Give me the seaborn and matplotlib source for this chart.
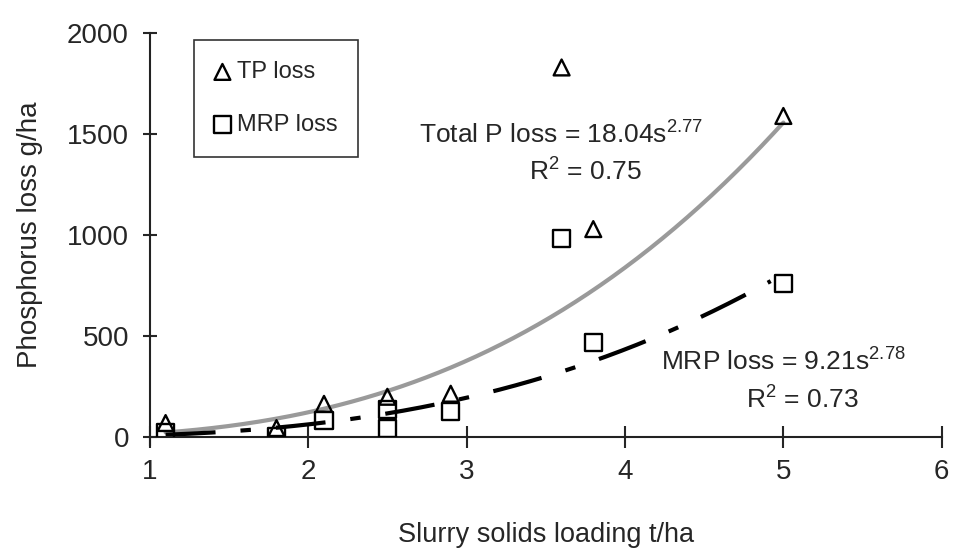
import numpy as np
import pandas as pd
import matplotlib
matplotlib.use("Agg")
import matplotlib.pyplot as plt
import seaborn as sns

# data
tp_x = [1.1, 1.8, 2.1, 2.5, 2.9, 3.6, 3.8, 5.0]
tp_y = [70, 45, 165, 200, 215, 1830, 1030, 1590]
mrp_x = [1.1, 1.8, 2.1, 2.5, 2.5, 2.9, 3.6, 3.8, 5.0]
mrp_y = [25, 5, 85, 135, 45, 125, 985, 470, 762]

# power fits given on the chart
tp_a, tp_b = 18.04, 2.77
mrp_a, mrp_b = 9.21, 2.78
tp_fit_range = [1.1, 5.0]
mrp_fit_range = [1.1, 4.92]

sns.set_theme(style="ticks")
plt.rcParams['font.family'] = ['Liberation Sans', 'DejaVu Sans']
plt.rcParams['mathtext.fontset'] = 'custom'
plt.rcParams['mathtext.rm'] = 'Liberation Sans'

fig = plt.figure(figsize=(9.6, 5.52), dpi=100)
ax = fig.add_axes([0.156, 0.208, 0.825, 0.732])

s_tp = np.linspace(tp_fit_range[0], tp_fit_range[1], 200)
s_mrp = np.linspace(mrp_fit_range[0], mrp_fit_range[1], 200)
fit_tp = pd.DataFrame({"s": s_tp, "p": tp_a * s_tp ** tp_b})
fit_mrp = pd.DataFrame({"s": s_mrp, "p": mrp_a * s_mrp ** mrp_b})

sns.lineplot(data=fit_tp, x="s", y="p", color="#9a9a9a", lw=3, ax=ax)
l = sns.lineplot(data=fit_mrp, x="s", y="p", color="black", lw=3, ax=ax)
l.lines[-1].set_dashes([12, 6, 2.5, 6])

pts_tp = pd.DataFrame({"s": tp_x, "p": tp_y})
pts_mrp = pd.DataFrame({"s": mrp_x, "p": mrp_y})
sns.scatterplot(data=pts_tp, x="s", y="p", marker="^", s=130, facecolor="none",
                edgecolor="black", linewidth=1.7, ax=ax, label="TP loss", zorder=3)
sns.scatterplot(data=pts_mrp, x="s", y="p", marker="s", s=150, facecolor="none",
                edgecolor="black", linewidth=1.7, ax=ax, label="MRP loss", zorder=3)

ax.set_xlim(1, 6)
ax.set_ylim(0, 2000)
ax.set_xticks([1, 2, 3, 4, 5, 6])
ax.set_yticks([0, 500, 1000, 1500, 2000])
ax.spines['top'].set_visible(False)
ax.spines['right'].set_visible(False)
ax.spines['left'].set_bounds(-40, 2000)
for sp in ('left', 'bottom'):
    ax.spines[sp].set_color('#222222')
    ax.spines[sp].set_linewidth(1.5)
ax.tick_params(axis='x', direction='inout', length=16, width=1.5, pad=8, labelsize=20)
ax.tick_params(axis='y', direction='inout', length=10, width=1.5, pad=10, labelsize=20)
ax.set_xlabel("Slurry solids loading t/ha", fontsize=19.5, labelpad=26)
ax.set_ylabel("Phosphorus loss g/ha", fontsize=20, labelpad=17)

leg = ax.legend(loc="upper left", bbox_to_anchor=(0.05, 0.995), frameon=True,
                fancybox=False, fontsize=17, handletextpad=0.3, labelspacing=1.3,
                borderpad=0.9, borderaxespad=0.2, handlelength=0.6, markerscale=1.0)
leg.get_frame().set_edgecolor("black")
leg.get_frame().set_linewidth(1.2)

ax.text(3.6, 1500, "Total P loss = 18.04s$^{2.77}$", fontsize=19, ha="center", va="center")
ax.text(3.75, 1320, "R$^2$ = 0.75", fontsize=19, ha="center", va="center")
ax.text(5.0, 380, "MRP loss = 9.21s$^{2.78}$", fontsize=19, ha="center", va="center")
ax.text(5.12, 190, "R$^2$ = 0.73", fontsize=19, ha="center", va="center")

fig.savefig("out.png", dpi=100)
